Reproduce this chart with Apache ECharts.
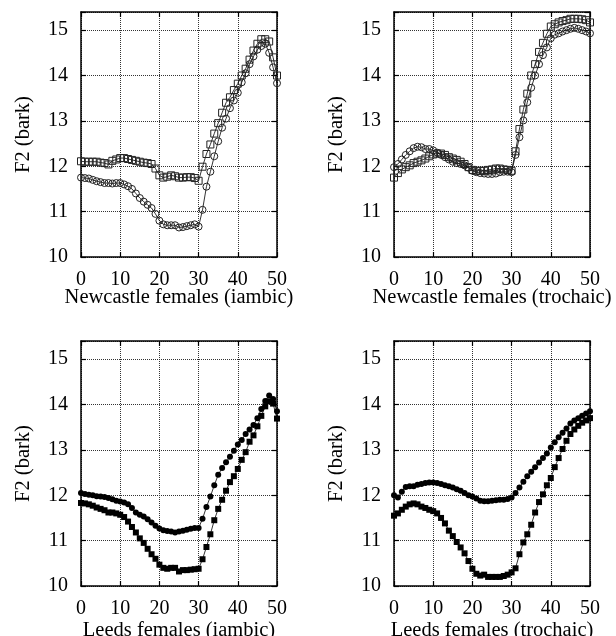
<!DOCTYPE html>
<html>
<head>
<meta charset="utf-8">
<script src="https://cdn.jsdelivr.net/npm/echarts@6/dist/echarts.min.js"></script>
<style>
  html, body { margin: 0; padding: 0; background: #fff; }
  #chart { width: 616px; height: 636px; }
</style>
</head>
<body>
<div id="chart"></div>
<script>
// frame index (x axis)
const frames = [0,1,2,3,4,5,6,7,8,9,10,11,12,13,14,15,16,17,18,19,20,21,22,23,24,25,
  26,27,28,29,30,31,32,33,34,35,36,37,38,39,40,41,42,43,44,45,46,47,48,49,50]

// Newcastle females (iambic)
const ncIambicSquares = [12.11,12.1,12.1,12.1,12.1,12.08,12.07,12.04,12.12,12.15,12.18,12.18,12.16,12.14,12.12,12.1,12.08,12.07,12.05,11.95,
  11.8,11.75,11.77,11.8,11.78,11.75,11.75,11.76,11.76,11.74,11.68,
  11.99,12.27,12.48,12.72,12.95,13.18,13.4,13.52,13.68,13.82,14.0,14.15,14.35,14.55,14.7,14.8,14.8,14.75,14.4,14.0]
const ncIambicCircles = [11.75,11.74,11.73,11.7,11.67,11.65,11.63,11.63,11.62,11.63,11.63,11.6,11.56,11.5,11.4,11.3,11.22,11.15,11.08,10.95,
  10.8,10.72,10.7,10.7,10.7,10.65,10.66,10.68,10.7,10.72,10.67,
  11.04,11.55,11.88,12.22,12.55,12.85,13.05,13.28,13.45,13.62,13.85,14.05,14.25,14.42,14.57,14.65,14.7,14.5,14.18,13.83]

// Newcastle females (trochaic)
const ncTrochaicSquares = [11.75,11.85,11.93,11.98,12.02,12.07,12.1,12.13,12.17,12.22,12.26,12.28,12.28,12.25,12.2,12.17,12.14,12.1,12.05,11.98,
  11.92,11.9,11.9,11.9,11.92,11.93,11.95,11.95,11.93,11.92,11.9,
  12.33,12.82,13.25,13.6,14.0,14.25,14.52,14.72,14.92,15.08,15.13,15.17,15.2,15.22,15.25,15.25,15.25,15.24,15.22,15.17]
const ncTrochaicCircles = [11.98,12.05,12.15,12.25,12.33,12.4,12.43,12.42,12.38,12.38,12.35,12.3,12.25,12.2,12.15,12.1,12.07,12.05,12.02,11.97,
  11.9,11.87,11.85,11.84,11.83,11.83,11.84,11.87,11.88,11.88,11.87,
  12.25,12.64,13.01,13.41,13.73,14.0,14.25,14.45,14.62,14.82,14.9,14.93,14.97,15.0,15.03,15.05,15.03,15.0,14.97,14.93]

// Leeds females (iambic)
const ldIambicCircles = [12.05,12.03,12.01,12.0,11.98,11.97,11.96,11.94,11.91,11.88,11.86,11.84,11.8,11.72,11.62,11.57,11.53,11.47,11.4,11.33,
  11.27,11.23,11.21,11.2,11.18,11.2,11.22,11.24,11.26,11.28,11.28,
  11.48,11.74,11.97,12.22,12.45,12.6,12.73,12.85,12.98,13.12,13.22,13.35,13.45,13.55,13.7,13.9,14.08,14.2,14.12,13.85]
const ldIambicSquares = [11.83,11.82,11.8,11.77,11.73,11.7,11.67,11.62,11.62,11.6,11.57,11.52,11.42,11.3,11.18,11.05,10.95,10.82,10.7,10.6,
  10.47,10.4,10.38,10.4,10.4,10.32,10.35,10.35,10.36,10.37,10.38,
  10.59,10.86,11.14,11.45,11.7,11.9,12.1,12.29,12.42,12.58,12.78,12.95,13.18,13.32,13.52,13.75,13.96,14.07,14.02,13.69]

// Leeds females (trochaic)
const ldTrochaicCircles = [12.0,11.95,12.08,12.18,12.2,12.2,12.23,12.25,12.27,12.28,12.28,12.27,12.25,12.22,12.2,12.17,12.13,12.1,12.05,12.0,
  11.97,11.93,11.88,11.87,11.87,11.88,11.89,11.9,11.9,11.92,11.95,
  12.05,12.17,12.3,12.42,12.52,12.62,12.72,12.82,12.92,13.05,13.17,13.28,13.38,13.47,13.58,13.65,13.7,13.75,13.8,13.85]
const ldTrochaicSquares = [11.55,11.6,11.68,11.75,11.8,11.82,11.8,11.75,11.72,11.68,11.65,11.6,11.5,11.38,11.22,11.1,10.97,10.85,10.72,10.55,
  10.38,10.27,10.23,10.25,10.2,10.2,10.2,10.2,10.22,10.25,10.3,
  10.39,10.7,10.96,11.14,11.35,11.62,11.85,12.02,12.22,12.38,12.62,12.82,13.02,13.2,13.35,13.45,13.53,13.6,13.65,13.7]

const panelNames = ['Newcastle females (iambic)', 'Newcastle females (trochaic)',
  'Leeds females (iambic)', 'Leeds females (trochaic)']
const yTicks = [10, 11, 12, 13, 14, 15]
const xTicks = [0, 10, 20, 30, 40, 50]

const chartInstance = echarts.init(document.getElementById('chart'))

const font = { fontFamily: 'Liberation Serif', fontSize: 20, color: '#000' }
const nameFont = { fontFamily: 'Liberation Serif', fontSize: 20.5, color: '#000' }
const grids = [
  { left: 81, top: 12, width: 196, height: 245, outerBoundsMode: 'none' },
  { left: 394, top: 12, width: 196, height: 245, outerBoundsMode: 'none' },
  { left: 81, top: 341, width: 196, height: 245, outerBoundsMode: 'none' },
  { left: 394, top: 341, width: 196, height: 245, outerBoundsMode: 'none' },
]
// the bottom row has its x caption a bit further from the axis
const xNameGaps = [30, 30, 34, 34]

const xAxes = []
const yAxes = []
grids.forEach((g, i) => {
  const common = {
    gridIndex: i,
    type: 'value',
    axisLine: { show: true, onZero: false, lineStyle: { color: '#000', width: 1.5 } },
    axisTick: { show: true, inside: true, length: 5, lineStyle: { color: '#000', width: 1.2 } },
  }
  xAxes.push({
    ...common,
    position: 'bottom',
    min: xTicks[0], max: xTicks[xTicks.length - 1], interval: 10,
    name: panelNames[i],
    nameLocation: 'middle',
    nameGap: xNameGaps[i],
    nameMoveOverlap: false,
    nameTextStyle: nameFont,
    axisLabel: { ...font, margin: 13 },
    splitLine: { show: true, lineStyle: { color: '#333', type: 'dotted', width: 1 } },
  })
  xAxes.push({
    ...common,
    position: 'top',
    min: xTicks[0], max: xTicks[xTicks.length - 1], interval: 10,
    axisLabel: { show: false },
    splitLine: { show: false },
  })
  yAxes.push({
    ...common,
    position: 'left',
    min: yTicks[0], max: 15.4, interval: 1,
    name: 'F2 (bark)',
    nameLocation: 'middle',
    nameGap: 47,
    nameMoveOverlap: false,
    nameTextStyle: nameFont,
    axisLabel: {
      ...font, margin: 13,
      formatter: v => (yTicks.includes(v) ? String(v) : '')
    },
    splitLine: { show: true, lineStyle: { color: '#333', type: 'dotted', width: 1 } },
  })
  yAxes.push({
    ...common,
    position: 'right',
    min: yTicks[0], max: 15.4, interval: 1,
    axisLabel: { show: false },
    splitLine: { show: false },
  })
})

const pairs = ys => frames.map((f, i) => [f, ys[i]])

const openStyle = { color: 'rgba(255,255,255,0)', borderColor: '#222', borderWidth: 1 }
const filledStyle = { color: '#000', borderColor: '#000', borderWidth: 0 }

const mk = (panel, data, symbol, filled) => ({
  type: 'line',
  xAxisIndex: panel * 2,
  yAxisIndex: panel * 2,
  data: pairs(data),
  symbol: symbol,
  symbolSize: filled ? 6 : 7,
  showAllSymbol: true,
  lineStyle: { color: '#000', width: 0.8 },
  itemStyle: filled ? filledStyle : openStyle,
  emphasis: { disabled: true },
  z: 3,
})

const option = {
  animation: false,
  backgroundColor: '#fff',
  grid: grids,
  xAxis: xAxes,
  yAxis: yAxes,
  series: [
    mk(0, ncIambicSquares, 'rect', false),
    mk(0, ncIambicCircles, 'circle', false),
    mk(1, ncTrochaicSquares, 'rect', false),
    mk(1, ncTrochaicCircles, 'circle', false),
    mk(2, ldIambicCircles, 'circle', true),
    mk(2, ldIambicSquares, 'rect', true),
    mk(3, ldTrochaicCircles, 'circle', true),
    mk(3, ldTrochaicSquares, 'rect', true),
  ],
}

chartInstance.setOption(option)
</script>
</body>
</html>
